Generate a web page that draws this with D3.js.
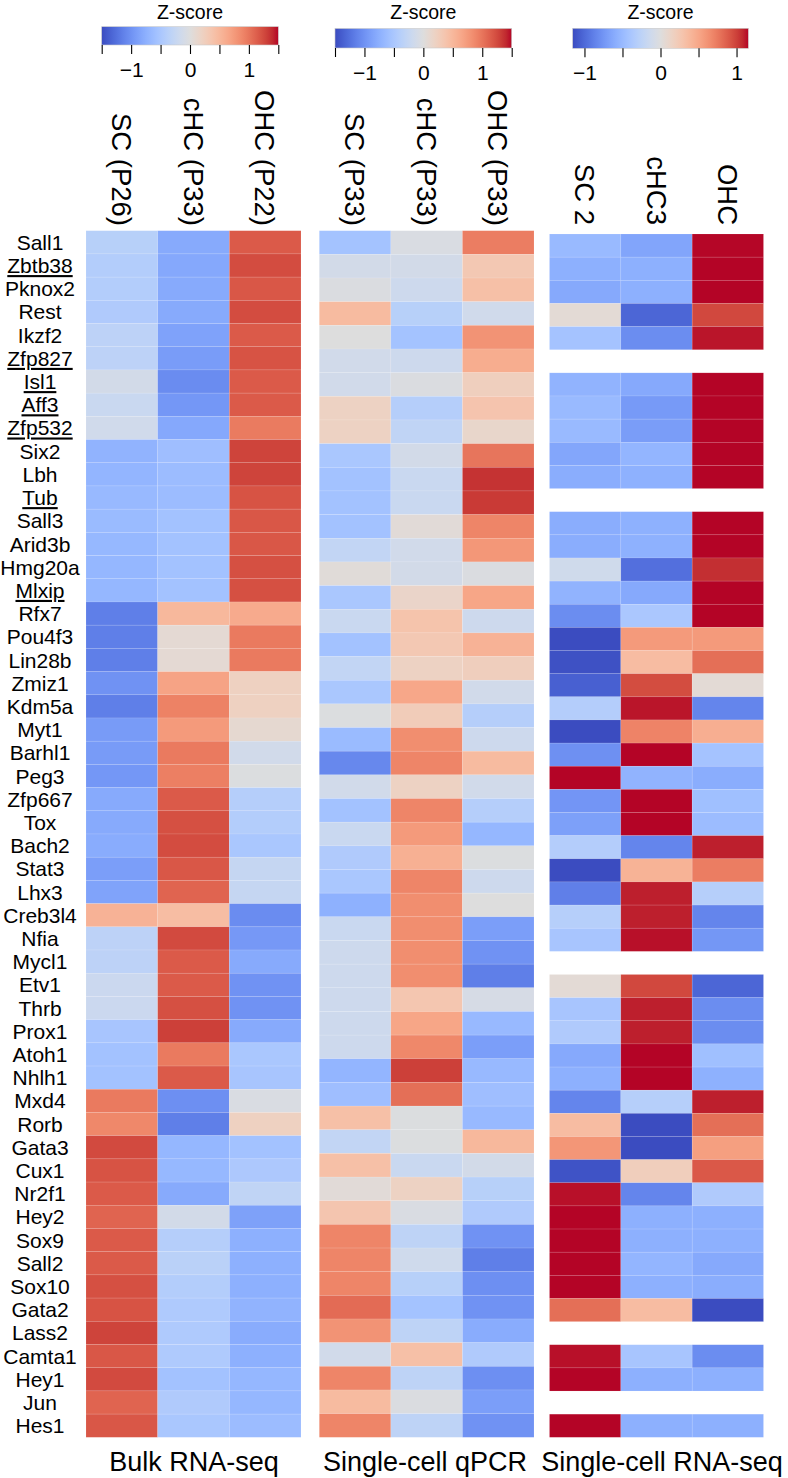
<!DOCTYPE html>
<html>
<head>
<meta charset="utf-8">
<script src="https://cdn.jsdelivr.net/npm/d3@7"></script>
<style>
  body { margin: 0; background: #fff; }
  svg { display: block; }
  text { font-family: "Liberation Sans", Arial, Helvetica, sans-serif; fill: #000; }
</style>
</head>
<body>
<svg id="chart" width="788" height="1478"></svg>
<script>
// ---------------- DATA ----------------
const genes = ["Sall1","Zbtb38","Pknox2","Rest","Ikzf2","Zfp827","Isl1","Aff3","Zfp532","Six2",
  "Lbh","Tub","Sall3","Arid3b","Hmg20a","Mlxip","Rfx7","Pou4f3","Lin28b","Zmiz1",
  "Kdm5a","Myt1","Barhl1","Peg3","Zfp667","Tox","Bach2","Stat3","Lhx3","Creb3l4",
  "Nfia","Mycl1","Etv1","Thrb","Prox1","Atoh1","Nhlh1","Mxd4","Rorb","Gata3",
  "Cux1","Nr2f1","Hey2","Sox9","Sall2","Sox10","Gata2","Lass2","Camta1","Hey1","Jun","Hes1"];
const underlinedGenes = ["Zbtb38","Zfp827","Isl1","Aff3","Zfp532","Tub","Mlxip"];

const bulkColumns = ["SC (P26)","cHC (P33)","OHC (P22)"];
const qpcrColumns = ["SC (P33)","cHC (P33)","OHC (P33)"];
const scColumns   = ["SC 2","cHC3","OHC"];
const panelTitles = ["Bulk RNA-seq","Single-cell qPCR","Single-cell RNA-seq"];

// Bulk RNA-seq z-scores (52 genes)
const bulkSC  = [-0.38,-0.42,-0.42,-0.45,-0.33,-0.33,-0.12,-0.22,-0.15,-0.72,
  -0.70,-0.66,-0.64,-0.67,-0.68,-0.68,-1.15,-1.15,-1.15,-1.00,
  -1.15,-0.93,-0.93,-0.96,-0.80,-0.80,-0.78,-0.90,-0.86,0.55,
  -0.33,-0.33,-0.20,-0.20,-0.52,-0.56,-0.56,0.97,0.88,1.25,
  1.20,1.16,1.10,1.16,1.16,1.22,1.20,1.28,1.18,1.25,1.10,1.18];
const bulkCHC = [-0.80,-0.82,-0.80,-0.80,-0.87,-0.92,-1.05,-0.96,-0.82,-0.60,
  -0.62,-0.62,-0.56,-0.56,-0.56,-0.56,0.50,0.08,0.08,0.68,
  0.92,0.75,0.97,0.94,1.16,1.22,1.24,1.18,1.10,0.45,
  1.25,1.16,1.16,1.22,1.30,0.97,1.16,-1.02,-1.15,-0.68,
  -0.67,-0.80,-0.12,-0.40,-0.36,-0.42,-0.46,-0.46,-0.46,-0.56,-0.45,-0.50];
const bulkOHC = [1.16,1.24,1.18,1.24,1.16,1.20,1.16,1.16,0.96,1.28,
  1.28,1.20,1.18,1.18,1.22,1.22,0.62,0.97,0.97,0.22,
  0.22,0.10,-0.14,-0.02,-0.40,-0.42,-0.50,-0.25,-0.25,-1.05,
  -0.95,-0.80,-1.00,-1.00,-0.80,-0.50,-0.52,-0.05,0.22,-0.56,
  -0.48,-0.30,-0.88,-0.75,-0.75,-0.75,-0.72,-0.78,-0.75,-0.68,-0.68,-0.62];

// Single-cell qPCR z-scores (51 rows as drawn)
const qpcrSC  = [-0.55,-0.12,-0.03,0.47,0.00,-0.14,-0.14,0.20,0.20,-0.50,
  -0.56,-0.56,-0.56,-0.28,0.04,-0.50,-0.22,-0.56,-0.28,-0.50,
  -0.02,-0.64,-1.08,-0.14,-0.56,-0.22,-0.45,-0.50,-0.74,-0.22,
  -0.18,-0.18,-0.18,-0.18,-0.18,-0.70,-0.60,0.42,-0.28,0.42,
  0.05,0.36,0.90,0.90,0.90,1.06,0.80,-0.14,0.90,0.47,0.90];
const qpcrCHC = [-0.05,-0.12,-0.18,-0.38,-0.55,-0.18,-0.03,-0.40,-0.30,-0.12,
  -0.22,-0.22,0.05,-0.14,-0.12,0.16,0.38,0.33,0.20,0.65,
  0.28,0.84,0.90,0.20,0.90,0.75,0.57,0.90,0.84,0.84,
  0.84,0.84,0.35,0.66,0.88,1.30,1.04,-0.02,-0.02,-0.22,
  0.20,-0.05,-0.32,-0.16,-0.38,-0.55,-0.32,0.42,-0.32,-0.03,-0.32];
const qpcrOHC = [0.95,0.33,0.42,-0.15,0.80,0.60,0.24,0.37,0.14,1.00,
  1.36,1.33,0.90,0.77,-0.03,0.66,-0.18,0.55,0.25,-0.14,
  -0.40,-0.18,0.47,-0.14,-0.40,-0.68,-0.02,-0.18,0.00,-0.90,
  -1.00,-1.15,-0.08,-0.66,-0.90,-0.66,-0.60,-0.66,0.50,-0.12,
  -0.38,-0.45,-1.00,-1.15,-1.02,-1.00,-0.78,-0.45,-1.02,-0.90,-1.00];

// Single-cell RNA-seq z-scores (52 genes, null = not detected)
const scSC  = [-0.50,-0.58,-0.62,0.05,-0.42,null,-0.55,-0.50,-0.50,-0.64,
  -0.60,null,-0.60,-0.60,-0.12,-0.55,-0.80,-1.155,-1.13,-1.05,
  -0.32,-1.155,-0.78,1.155,-0.75,-0.68,-0.32,-1.155,-0.88,-0.30,
  -0.40,null,0.05,-0.40,-0.35,-0.62,-0.58,-0.85,0.35,0.60,
  -1.12,1.13,1.155,1.155,1.155,1.155,0.80,null,1.13,1.155,null,1.155];
const scCHC = [-0.65,-0.58,-0.58,-1.02,-0.80,null,-0.62,-0.72,-0.70,-0.54,
  -0.57,null,-0.57,-0.57,-0.97,-0.62,-0.38,0.58,0.35,0.95,
  1.12,0.70,1.155,-0.55,1.155,1.155,-0.85,0.42,1.10,1.10,
  1.13,null,0.97,1.10,1.10,1.155,1.155,-0.30,-1.155,-1.155,
  0.20,-0.85,-0.58,-0.58,-0.54,-0.58,0.35,null,-0.40,-0.58,null,-0.58];
const scOHC = [1.15,1.155,1.155,0.97,1.12,null,1.155,1.155,1.155,1.155,
  1.155,null,1.155,1.155,1.06,1.155,1.155,0.58,0.80,0.05,
  -0.85,0.45,-0.42,-0.60,-0.45,-0.48,1.10,0.73,-0.30,-0.85,
  -0.74,null,-1.02,-0.80,-0.80,-0.45,-0.57,1.10,0.80,0.55,
  0.90,-0.35,-0.58,-0.58,-0.62,-0.60,-1.155,null,-0.80,-0.58,null,-0.58];

// Colour-bar tick values
const bulkLegendTicks = [-1.5,-1,-0.5,0,0.5,1,1.5];
const qpcrLegendTicks = [-1.5,-1,-0.5,0,0.5,1,1.5];
const scLegendTicks   = [-1,-0.5,0,0.5,1];
const legendTitle = "Z-score";

// ---------------- STYLE ----------------
const coolwarmStops = ["#3b4cc0","#445acc","#4d68d7","#5775e1","#6282ea","#6c8ef1","#779af7","#82a5fb",
  "#8db0fe","#98b9ff","#a3c2ff","#aec9fd","#b8d0f9","#c2d5f4","#ccd9ee","#d5dbe6","#dddddd",
  "#e5d8d1","#ecd3c5","#f1ccb9","#f5c4ad","#f7bba0","#f7b194","#f7a688","#f49a7b","#f18d6f",
  "#ec7f63","#e57058","#de604d","#d55042","#cb3e38","#c0282f","#b40426"];
const coolwarm = d3.piecewise(d3.interpolateRgb, coolwarmStops);

const svg = d3.select("#chart");
const defs = svg.append("defs");

const panels = [
  { cols: bulkColumns, rows: genes, series: [bulkSC, bulkCHC, bulkOHC], lim: 1.5,
    x: [86, 301], y: [230.7, 1437.3], headerEnd: 226, titleX: 194,
    legend: { x: [101.7, 278.3], y: [26.7, 45], ticks: bulkLegendTicks } },
  { cols: qpcrColumns, rows: d3.range(qpcrSC.length), series: [qpcrSC, qpcrCHC, qpcrOHC], lim: 1.5,
    x: [319.3, 534], y: [230.7, 1437.3], headerEnd: 226, titleX: 425,
    legend: { x: [335, 511.7], y: [28.5, 48], ticks: qpcrLegendTicks } },
  { cols: scColumns, rows: genes, series: [scSC, scCHC, scOHC], lim: 2 / Math.sqrt(3),
    x: [549.5, 763.5], y: [234, 1437.3], headerEnd: 225, titleX: 662,
    legend: { x: [572.7, 748.3], y: [28.3, 48.3], ticks: scLegendTicks } }
];

panels.forEach((p, pi) => {
  const color = d3.scaleSequential(coolwarm).domain([-p.lim, p.lim]).clamp(true);
  const x = d3.scaleBand().domain(p.cols).range(p.x);
  const y = d3.scaleBand().domain(p.rows).range(p.y);
  const g = svg.append("g");

  const cells = [];
  p.rows.forEach((r, i) => p.cols.forEach((c, j) => {
    const v = p.series[j][i];
    if (v !== null && v !== undefined) cells.push({ r, c, v });
  }));

  g.selectAll("rect.cell").data(cells).join("rect")
    .attr("class", "cell")
    .attr("x", d => x(d.c))
    .attr("y", d => y(d.r))
    .attr("width", x.bandwidth())
    .attr("height", y.bandwidth())
    .attr("fill", d => color(d.v))
    .attr("stroke", "rgba(255,255,255,0.18)")
    .attr("stroke-width", 0.6);

  // Column headers (rotated)
  g.selectAll("text.hdr").data(p.cols).join("text")
    .attr("class", "hdr")
    .attr("transform", d => `translate(${x(d) + x.bandwidth() / 2},${p.headerEnd}) rotate(90)`)
    .attr("text-anchor", "end")
    .attr("dy", "0.36em")
    .style("font-size", "27.5px")
    .text(d => d);

  // Panel title below
  g.append("text")
    .attr("x", p.titleX)
    .attr("y", 1471)
    .attr("text-anchor", "middle")
    .style("font-size", "27px")
    .text(panelTitles[pi]);

  // Colour legend
  const L = p.legend;
  const lscale = d3.scaleLinear().domain([-p.lim, p.lim]).range(L.x);
  const gid = "grad" + pi;
  const grad = defs.append("linearGradient").attr("id", gid)
    .attr("x1", "0%").attr("x2", "100%").attr("y1", "0%").attr("y2", "0%");
  d3.range(0, 1.0001, 1 / 32).forEach(t => {
    grad.append("stop").attr("offset", (t * 100) + "%").attr("stop-color", coolwarm(t));
  });
  const lg = svg.append("g");
  lg.append("text")
    .attr("x", (L.x[0] + L.x[1]) / 2)
    .attr("y", 18.5)
    .attr("text-anchor", "middle")
    .style("font-size", "19.5px")
    .text(legendTitle);
  lg.append("rect")
    .attr("x", L.x[0]).attr("y", L.y[0])
    .attr("width", L.x[1] - L.x[0]).attr("height", L.y[1] - L.y[0])
    .attr("fill", `url(#${gid})`)
    .attr("stroke", "#c8c8c8").attr("stroke-width", 0.6);
  const axis = d3.axisBottom(lscale)
    .tickValues(L.ticks)
    .tickSize(9)
    .tickPadding(8)
    .tickFormat(d => Number.isInteger(d) ? d3.format("d")(d) : "");
  const ag = lg.append("g").attr("transform", `translate(0,${L.y[1]})`).call(axis);
  ag.select(".domain").remove();
  ag.selectAll(".tick line").attr("stroke", "#000").attr("stroke-width", 1.1);
  ag.selectAll(".tick text")
    .style("font-family", '"Liberation Sans", Arial, sans-serif')
    .style("font-size", "21px")
    .attr("fill", "#000");
});

// Row labels (gene names), aligned with the bulk panel rows
const yGenes = d3.scaleBand().domain(genes).range(panels[0].y);
svg.append("g").selectAll("text").data(genes).join("text")
  .attr("x", 40)
  .attr("y", d => yGenes(d) + yGenes.bandwidth() / 2)
  .attr("dy", "0.36em")
  .attr("text-anchor", "middle")
  .style("font-size", "21px")
  .style("text-decoration", d => underlinedGenes.includes(d) ? "underline" : null)
  .text(d => d);
</script>
</body>
</html>
